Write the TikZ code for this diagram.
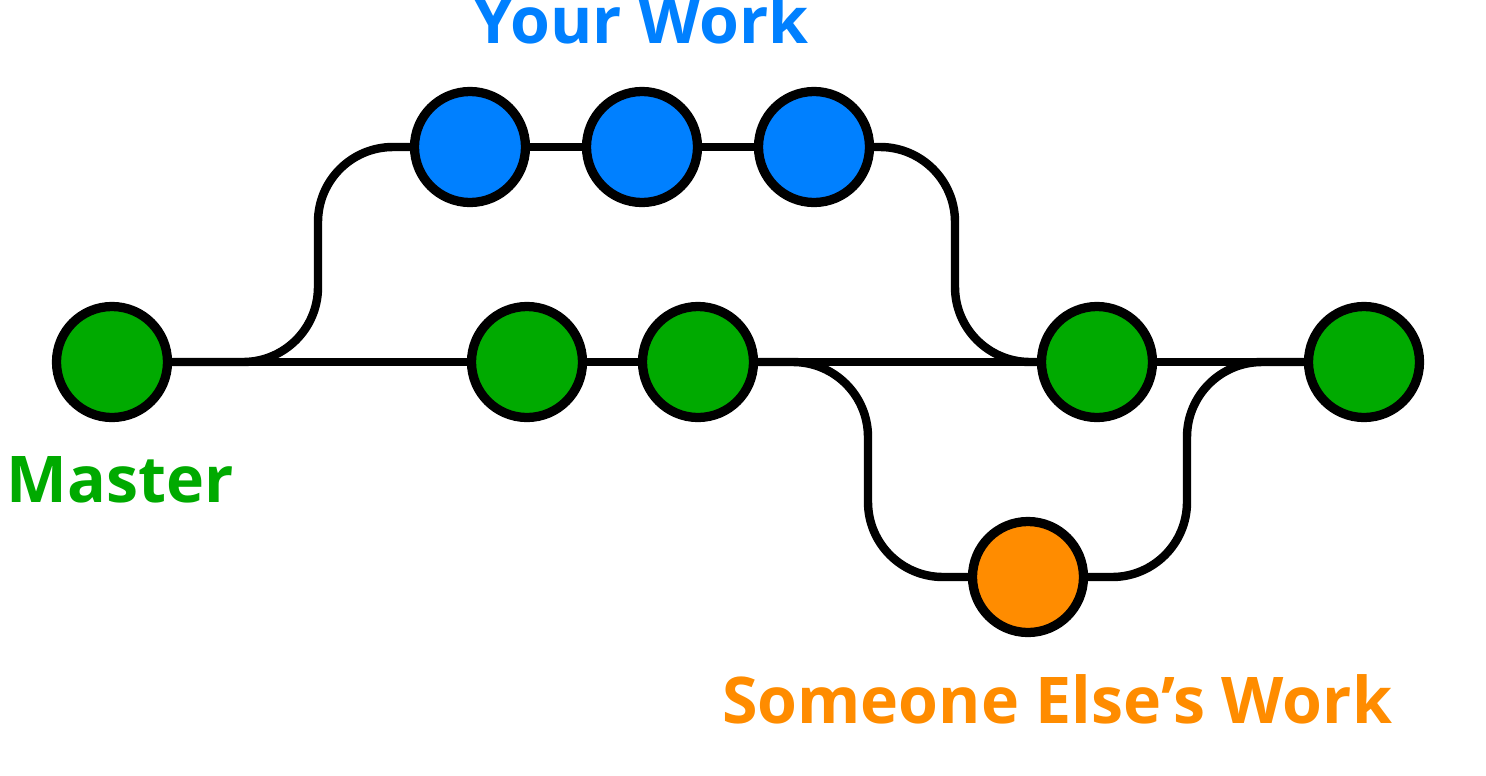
\documentclass[tikz,border=0pt]{standalone}
\usepackage{fontspec}
\setmainfont{Open Sans}
\definecolor{mastergreen}{HTML}{00AA00}
\definecolor{workblue}{HTML}{0080FF}
\definecolor{otherorange}{HTML}{FF8C00}
\begin{document}
\begin{tikzpicture}[x=.03cm,y=-.03cm,
    commit/.style={circle,draw=black,line width=7.9pt,minimum size=3.33cm,inner sep=0pt},
    branch/.style={line width=7.2pt,rounded corners=2.25cm},
    lab/.style={font=\fontsize{55}{58}\selectfont\bfseries,anchor=base}]
  \useasboundingbox (0,0) rectangle (1486,775);
  % commits
  \foreach \n/\x in {m1/112,m2/527,m3/698,m4/1097,m5/1364}
    \node[commit,fill=mastergreen] (\n) at (\x,362) {};
  \foreach \n/\x in {b1/470,b2/642,b3/814}
    \node[commit,fill=workblue] (\n) at (\x,147) {};
  \node[commit,fill=otherorange] (o1) at (1028,577) {};
  % corners of the side branches
  \coordinate (upL) at (318,362);
  \coordinate (upLt) at (318,147);
  \coordinate (upRt) at (955,147);
  \coordinate (upR) at (955,362);
  \coordinate (loL) at (868,362);
  \coordinate (loLb) at (868,577);
  \coordinate (loRb) at (1187,577);
  \coordinate (loR) at (1187,362);
  % straight links
  \foreach \a/\b in {m1/m2,m2/m3,m3/m4,m4/m5,b1/b2,b2/b3}
    \draw[branch] (\a) -- (\b);
  % branches
  \draw[branch] (m1) -- (upL) -- (upLt) -- (b1);
  \draw[branch] (b3) -- (upRt) -- (upR) -- (m4);
  \draw[branch] (m3) -- (loL) -- (loLb) -- (o1);
  \draw[branch] (o1) -- (loRb) -- (loR) -- (m5);
  % labels
  \node[lab,text=workblue] (worklab) at (641,43) {Your Work};
  \node[lab,text=mastergreen] (masterlab) at (120,502) {Master};
  \node[lab,text=otherorange] (otherlab) at (1057,723) {Someone Else’s Work};
\end{tikzpicture}
\end{document}
